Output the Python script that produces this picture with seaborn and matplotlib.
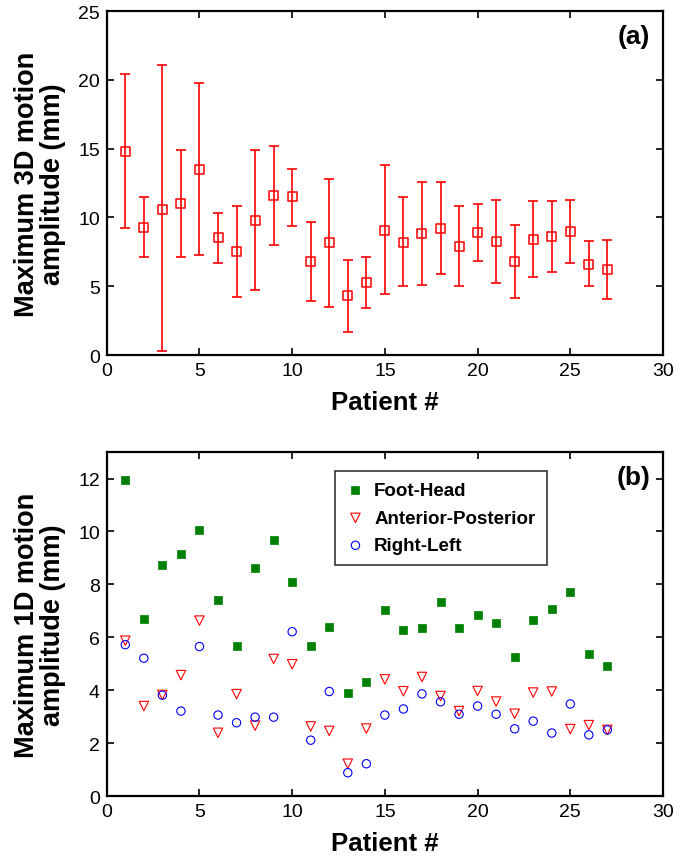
import numpy as np
import pandas as pd
import matplotlib
matplotlib.use("Agg")
import matplotlib.pyplot as plt
import seaborn as sns

patients = list(range(1, 28))
mean_3d = [14.8, 9.3, 10.6, 11.0, 13.5, 8.55, 7.55, 9.8, 11.6, 11.5, 6.8, 8.2, 4.3, 5.3, 9.05,
           8.2, 8.85, 9.2, 7.9, 8.9, 8.24, 6.8, 8.4, 8.6, 9.0, 6.6, 6.2]
upper_3d = [20.4, 11.5, 21.1, 14.9, 19.8, 10.35, 10.8, 14.9, 15.2, 13.5, 9.67, 12.8, 6.9, 7.1, 13.8,
            11.5, 12.6, 12.6, 10.8, 11.0, 11.3, 9.45, 11.2, 11.2, 11.3, 8.26, 8.36]
lower_3d = [9.2, 7.1, 0.3, 7.1, 7.3, 6.7, 4.2, 4.7, 8.0, 9.4, 3.9, 3.5, 1.65, 3.4, 4.4,
            5.0, 5.1, 5.9, 5.0, 6.8, 5.2, 4.14, 5.65, 6.0, 6.7, 5.0, 4.05]

foot_head = [11.94, 6.70, 8.74, 9.14, 10.05, 7.40, 5.66, 8.60, 9.67, 8.09, 5.66, 6.38, 3.89, 4.31, 7.03,
             6.28, 6.34, 7.34, 6.36, 6.83, 6.55, 5.24, 6.65, 7.06, 7.70, 5.36, 4.93]
ant_post = [5.87, 3.40, 3.82, 4.57, 6.63, 2.39, 3.85, 2.66, 5.18, 4.98, 2.63, 2.46, 1.22, 2.55, 4.41,
            3.96, 4.50, 3.78, 3.21, 3.97, 3.57, 3.11, 3.91, 3.95, 2.53, 2.68, 2.50]
right_left = [5.72, 5.21, 3.81, 3.21, 5.65, 3.06, 2.77, 2.98, 2.98, 6.21, 2.11, 3.95, 0.88, 1.22, 3.06,
              3.29, 3.86, 3.56, 3.09, 3.40, 3.09, 2.54, 2.83, 2.38, 3.48, 2.31, 2.50]
series_names = ["Foot-Head", "Anterior-Posterior", "Right-Left"]

sns.set_style("ticks")
plt.rcParams['font.family'] = ['Liberation Sans', 'DejaVu Sans']
plt.rcParams.update({"text.color": "black", "axes.labelcolor": "black",
                     "xtick.color": "black", "ytick.color": "black"})

fig = plt.figure(figsize=(6.8, 8.62), dpi=100)
ax1 = fig.add_axes([0.157, 0.587, 0.818, 0.399])
ax2 = fig.add_axes([0.157, 0.0754, 0.818, 0.399])

# Panel (a)
df3 = pd.DataFrame({"patient": patients, "mean": mean_3d, "lo": lower_3d, "hi": upper_3d})
yerr = [np.array(mean_3d) - np.array(lower_3d), np.array(upper_3d) - np.array(mean_3d)]
ax1.errorbar(df3["patient"], df3["mean"], yerr=yerr, fmt="none", ecolor="#ff0000",
             elinewidth=1.2, capsize=3.6, capthick=1.2, zorder=2)
sns.scatterplot(data=df3, x="patient", y="mean", ax=ax1, marker="s", s=42,
                facecolor="none", edgecolor="#ff0000", linewidth=1.1, zorder=3)
ax1.set_xlim(0, 30)
ax1.set_ylim(0, 25)
ax1.set_xticks([0, 5, 10, 15, 20, 25, 30])
ax1.set_yticks([0, 5, 10, 15, 20, 25])
ax1.set_xlabel("Patient #", fontsize=18.5, fontweight="bold", labelpad=8)
ax1.set_ylabel("Maximum 3D motion\namplitude (mm)", fontsize=19.5, fontweight="bold",
               labelpad=9, linespacing=1.0)
ax1.text(0.977, 0.962, "(a)", transform=ax1.transAxes, ha="right", va="top",
         fontsize=19, fontweight="bold")

# Panel (b)
df1 = pd.DataFrame({
    "patient": patients * 3,
    "value": foot_head + ant_post + right_left,
    "direction": [series_names[0]] * 27 + [series_names[1]] * 27 + [series_names[2]] * 27,
})
sns.scatterplot(data=df1[df1.direction == series_names[0]], x="patient", y="value", ax=ax2,
                marker="s", s=36, color="#008000", edgecolor="#008000", linewidth=0.5,
                label=series_names[0], zorder=3)
sns.scatterplot(data=df1[df1.direction == series_names[1]], x="patient", y="value", ax=ax2,
                marker="v", s=46, facecolor="none", edgecolor="#ff0000", linewidth=0.8,
                label=series_names[1], zorder=3)
sns.scatterplot(data=df1[df1.direction == series_names[2]], x="patient", y="value", ax=ax2,
                marker="o", s=36, facecolor="none", edgecolor="#0000ff", linewidth=0.8,
                label=series_names[2], zorder=3)
ax2.set_xlim(0, 30)
ax2.set_ylim(0, 13)
ax2.set_xticks([0, 5, 10, 15, 20, 25, 30])
ax2.set_yticks([0, 2, 4, 6, 8, 10, 12])
ax2.set_xlabel("Patient #", fontsize=18.5, fontweight="bold", labelpad=8)
ax2.set_ylabel("Maximum 1D motion\namplitude (mm)", fontsize=19.5, fontweight="bold",
               labelpad=9, linespacing=1.0)
ax2.text(0.977, 0.962, "(b)", transform=ax2.transAxes, ha="right", va="top",
         fontsize=19, fontweight="bold")
leg = ax2.legend(loc="upper left", bbox_to_anchor=(0.41, 0.945), frameon=True, fancybox=False,
                 edgecolor="black", prop={"weight": "bold", "size": 13.5}, handletextpad=0.5,
                 handlelength=1.0, borderpad=0.6, labelspacing=0.55, borderaxespad=0)
leg.get_frame().set_linewidth(1.2)

for ax in (ax1, ax2):
    ax.tick_params(direction="in", top=True, right=True, length=5, width=1.2,
                   labelsize=14, pad=5)
    for sp in ax.spines.values():
        sp.set_visible(True)
        sp.set_linewidth(1.6)
        sp.set_color("black")

fig.savefig("out.png", dpi=100)
